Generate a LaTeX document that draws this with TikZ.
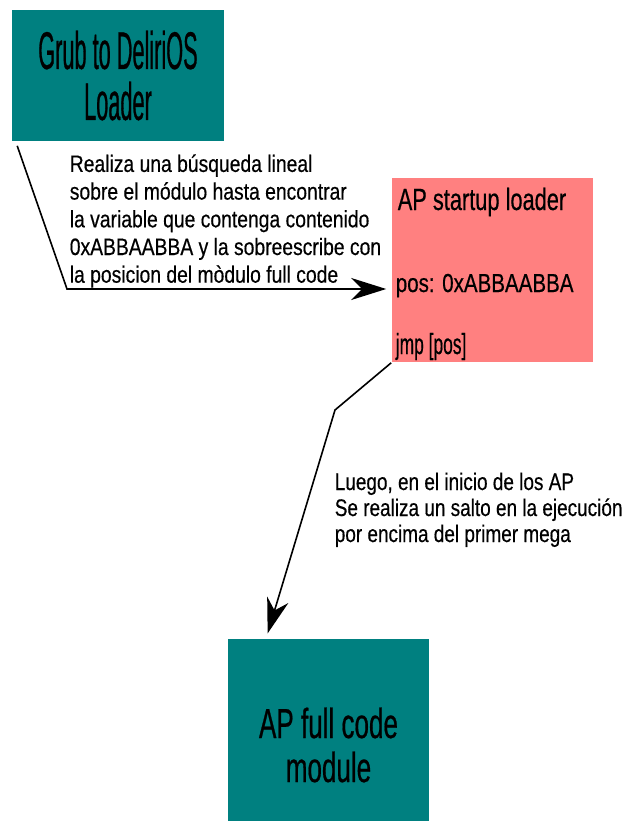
\documentclass[tikz,border=0pt]{standalone}
\usepackage{fontspec}
\setmainfont{Liberation Sans}
\newfontfamily\boxfont[FakeStretch=0.41,FakeBold=0.5]{Liberation Sans}
\newfontfamily\modfont[FakeStretch=0.62,FakeBold=0.5]{Liberation Sans}
\newfontfamily\notefont[FakeStretch=0.79,FakeBold=0.4]{Liberation Sans}
\newfontfamily\searchfont[FakeStretch=0.815,FakeBold=0.4]{Liberation Sans}
\newfontfamily\titlefont[FakeStretch=0.71,FakeBold=0.4]{Liberation Sans}
\newfontfamily\jmpfont[FakeStretch=0.60,FakeBold=0.4]{Liberation Sans}
\usetikzlibrary{arrows.meta}
\definecolor{boxteal}{HTML}{008080}
\definecolor{boxpink}{HTML}{FF8080}
\begin{document}
\begin{tikzpicture}[x=1pt,y=-1pt,line width=1.6pt,
	>={Stealth[length=35pt,width=22pt,inset=11pt]},
	module/.style={fill=boxteal,inner sep=0pt,align=center},
	note/.style={anchor=base west,inner sep=0pt,align=left}]
\useasboundingbox (0,0) rectangle (624,821);
% boxes
\node[module,minimum width=212pt,minimum height=131pt,
	font=\boxfont\fontsize{53}{51}\selectfont] (grub) at (118,75.5)
	{Grub to DeliriOS\\Loader};
\node[fill=boxpink,minimum width=201pt,minimum height=184pt,inner sep=0pt]
	(ap) at (492.5,270) {};
\node[module,minimum width=201pt,minimum height=212pt,
	font=\modfont\fontsize{42}{44}\selectfont] (fullcode) at (328.5,745)
	{AP full code\\module};
% text of the loader
\node[note,font=\titlefont\fontsize{30.7}{32}\selectfont] (aptitle) at (397,210) {AP startup loader};
\node[note,font=\notefont\fontsize{26}{28}\selectfont] (appos) at (395,292) {pos: 0xABBAABBA};
\node[note,font=\jmpfont\fontsize{29}{30}\selectfont] (apjmp) at (395,354) {jmp [pos]};
% connectors
\coordinate (bendA) at (67,289);
\coordinate (bendB) at (335,410);
\draw[->,shorten >=5pt] ([xshift=6pt,yshift=-4pt]grub.south west)
	-- (bendA) -- (bendA -| ap.west);
\draw[->,shorten >=5pt] (ap.south west) -- (bendB)
	-- ([xshift=39pt]fullcode.north west);
\node[note,font=\searchfont\fontsize{23.7}{27.7}\selectfont] (search) at (69,282.7)
	{Realiza una búsqueda lineal\\sobre el módulo hasta encontrar\\la variable que contenga contenido\\0xABBAABBA y la sobreescribe con\\la posicion del mòdulo full code};
\node[note,font=\notefont\fontsize{24}{26}\selectfont] (jump) at (334,542)
	{Luego, en el inicio de los AP\\Se realiza un salto en la ejecución\\por encima del primer mega};
\end{tikzpicture}
\end{document}
